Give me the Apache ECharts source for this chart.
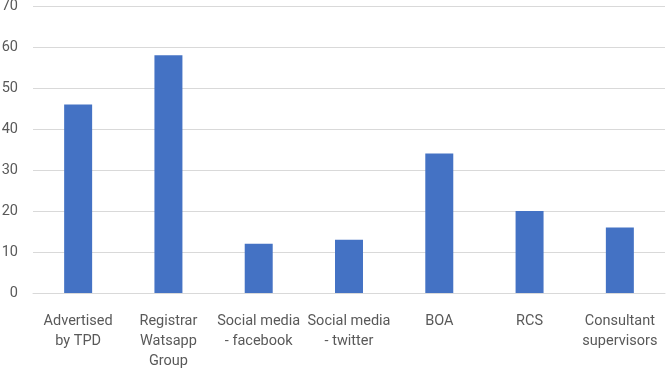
<!DOCTYPE html>
<html>
<head>
<meta charset="utf-8">
<script src="https://cdn.jsdelivr.net/npm/echarts@6/dist/echarts.min.js"></script>
<style>html,body{margin:0;padding:0;background:#fff;}#c{width:666px;height:369px;}</style>
</head>
<body>
<div id="c"></div>
<script>
const categories = ["Advertised\nby TPD", "Registrar\nWatsapp\nGroup", "Social media\n- facebook", "Social media\n- twitter", "BOA", "RCS", "Consultant\nsupervisors"];
const values = [46, 58, 12, 13, 34, 20, 16];
const yTicks = { min: 0, max: 70, interval: 10 };

const chart = echarts.init(document.getElementById('c'), null, { renderer: 'canvas' });
chart.setOption({
  animation: false,
  grid: { left: 33, right: 1, top: 6, bottom: 76, outerBoundsMode: 'none', containLabel: false },
  xAxis: {
    type: 'category',
    data: categories,
    axisLine: { show: true, lineStyle: { color: '#d9d9d9', width: 1 } },
    axisTick: { show: false },
    axisLabel: { interval: 0, color: '#595959', fontFamily: 'Roboto', fontSize: 14.5, lineHeight: 20, margin: 18 }
  },
  yAxis: {
    type: 'value',
    min: yTicks.min, max: yTicks.max, interval: yTicks.interval,
    axisLine: { show: false },
    axisTick: { show: false },
    splitLine: { lineStyle: { color: '#d9d9d9', width: 1 } },
    axisLabel: { color: '#595959', fontFamily: 'Roboto', fontSize: 14.5, margin: 15 }
  },
  series: [{
    type: 'bar',
    data: values,
    barWidth: '31%',
    itemStyle: { color: '#4472C4' }
  }]
});
</script>
</body>
</html>
